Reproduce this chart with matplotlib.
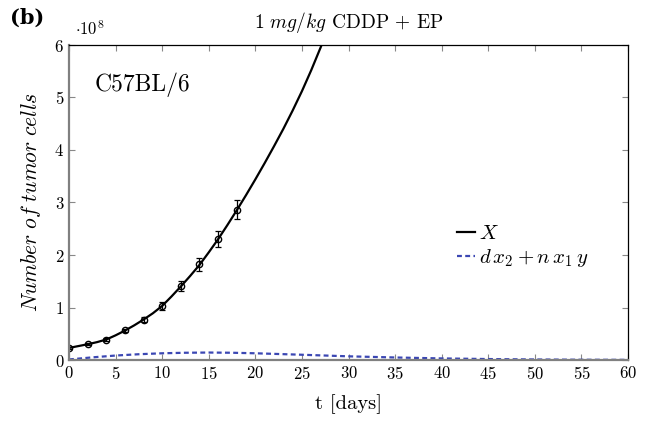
import matplotlib
matplotlib.use("Agg")
import matplotlib.pyplot as plt
import numpy as np

# data
t_obs = [0, 2, 4, 6, 8, 10, 12, 14, 16, 18]
x_obs = [0.23, 0.30, 0.39, 0.57, 0.77, 1.03, 1.41, 1.82, 2.31, 2.86]
x_err = [0.02, 0.02, 0.03, 0.03, 0.05, 0.07, 0.09, 0.12, 0.15, 0.18]

t_model = [0, 1, 2, 3, 4, 5, 6, 7, 8, 9, 10, 11, 12, 13, 14, 15, 16, 17, 18, 19,
           20, 21, 22, 23, 24, 25, 26, 27, 28]
x_model = [0.23, 0.265, 0.30, 0.34, 0.39, 0.47, 0.56, 0.66, 0.77, 0.89, 1.03, 1.21,
           1.40, 1.60, 1.81, 2.05, 2.30, 2.57, 2.85, 3.14, 3.44, 3.75, 4.07, 4.40,
           4.75, 5.12, 5.52, 5.95, 6.40]

t_dx = [0, 2.5, 5, 7.5, 10, 12.5, 15, 17.5, 20, 25, 30, 35, 40, 45, 50, 55, 60]
dx = [0.01, 0.05, 0.085, 0.11, 0.128, 0.138, 0.142, 0.138, 0.128, 0.10, 0.07, 0.048,
      0.03, 0.018, 0.01, 0.005, 0.003]

plt.rcParams['mathtext.fontset'] = 'cm'
plt.rcParams['font.family'] = 'serif'
plt.rcParams['font.serif'] = ['cmr10']
plt.rcParams['axes.formatter.use_mathtext'] = True

fig = plt.figure(figsize=(6.53, 4.23), dpi=100)
ax = fig.add_axes([69/653, 63/423, 559/653, 315/423])

ax.plot(t_model, x_model, color='black', lw=1.6, label=r'$X$')
ax.plot(t_dx, dx, color='#3b47b3', lw=1.6, ls=(0, (2.2, 1.5)), label=r'$d\,x_2 + n\,x_1\,y$')
ax.errorbar(t_obs, x_obs, yerr=x_err, fmt='o', mfc='none', mec='black', ms=4.5,
            ecolor='black', elinewidth=0.9, capsize=2.5, capthick=0.9, color='black')

ax.set_xlim(0, 60)
ax.set_ylim(0, 6)
ax.set_xticks(range(0, 61, 5))
ax.set_yticks(range(0, 7))
ax.tick_params(direction='in', top=True, right=True, color='#888888', length=4,
               labelsize=12, width=0.8)
for s in ['left', 'bottom']:
    ax.spines[s].set_color('#808080')
    ax.spines[s].set_linewidth(1.6)
for s in ['top', 'right']:
    ax.spines[s].set_linewidth(0.9)

ax.set_xlabel('t [days]', fontsize=14.8, labelpad=9)
ax.set_ylabel(r'$Number\ of\ tumor\ cells$', fontsize=15.5, labelpad=8)
ax.set_title(r'$1\,\,mg/kg$ CDDP + EP', fontsize=14, pad=12)
fig.text(75/653, 1 - 29/423, r'$\cdot 10^{8}$', fontsize=12, va='center', ha='left')
fig.text(10/653, 1 - 18/423, '(b)', fontsize=15, fontweight='bold', va='center',
         ha='left', family='DejaVu Serif')
ax.text(0.045, 0.875, 'C57BL/6', transform=ax.transAxes, fontsize=17, va='center')

ax.legend(loc='center left', bbox_to_anchor=(0.66, 0.36), frameon=False,
          fontsize=15, handlelength=0.9, handletextpad=0.15, labelspacing=0.2)

fig.savefig('out.png', dpi=100)
